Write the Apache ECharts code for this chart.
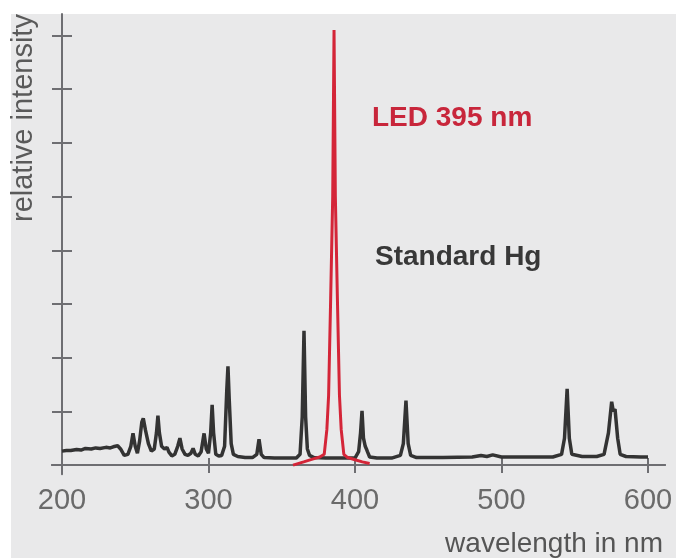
<!DOCTYPE html>
<html>
<head>
<meta charset="utf-8">
<script src="https://cdn.jsdelivr.net/npm/echarts@6/dist/echarts.min.js"></script>
<style>
html,body{margin:0;padding:0;background:#fff;}
#chart{width:676px;height:558px;}
</style>
</head>
<body>
<div id="chart"></div>
<script>
// Standard Hg lamp spectrum (wavelength nm, relative intensity)
const hgNm = [200,203,206,210,213,216,220,223,226,230,233,235,238,240,242.5,245,247,248.5,250,251.5,253,254.5,255.5,257,259,261,263,264.5,265.5,266.5,268,270,271.7,273,275,277,279,280.5,282,284,286,288,289.5,291,293,295,297,298.5,300,301.5,302.5,303.5,305,307,309,311,312.5,313.3,314.2,315.5,317,320,325,330,333,334.5,336,338,345,355,360,362.5,364,365.2,366.3,367.5,369,372,380,395,400,402.5,403.8,404.8,405.8,407,407.8,408.5,410,415,425,431,433,434.8,436.3,438,442,460,480,486,490,494,500,520,535,541,543,544.8,546.3,548,555,565,570,573,575.2,576.3,577.5,579.3,581,585,595,600];
const hgVal = [0.26,0.27,0.27,0.29,0.28,0.31,0.3,0.32,0.31,0.33,0.32,0.34,0.36,0.3,0.18,0.2,0.35,0.59,0.35,0.22,0.45,0.8,0.87,0.65,0.4,0.26,0.3,0.6,0.92,0.6,0.35,0.3,0.33,0.24,0.17,0.2,0.35,0.5,0.3,0.2,0.18,0.22,0.31,0.2,0.17,0.25,0.59,0.3,0.22,0.6,1.12,0.6,0.2,0.17,0.18,0.35,1.4,1.84,1.2,0.4,0.2,0.16,0.14,0.14,0.2,0.48,0.2,0.14,0.13,0.13,0.13,0.2,0.9,2.5,0.9,0.3,0.18,0.14,0.13,0.13,0.13,0.25,0.6,1.01,0.5,0.35,0.3,0.25,0.15,0.13,0.13,0.18,0.4,1.2,0.4,0.18,0.14,0.14,0.15,0.18,0.16,0.19,0.15,0.15,0.15,0.2,0.5,1.42,0.5,0.2,0.16,0.16,0.2,0.6,1.18,1.0,1.04,0.5,0.2,0.16,0.15,0.15];
// LED 395 nm spectrum
const ledNm = [357.7,365,371,376,379.0,380.8,382.0,383.4,384.8,385.7,386.6,388.0,389.4,390.6,392.4,395,400,405,410];
const ledVal = [0.0,0.06,0.11,0.15,0.2,0.66,1.3,3.1,5.0,8.1,5.0,3.1,1.3,0.66,0.2,0.14,0.1,0.06,0.03];
// Axis ticks
const xTicks = [200,300,400,500,600];
const yTicks = [0,1,2,3,4,5,6,7,8];
const seriesNames = ['Standard Hg','LED 395 nm'];

const hgData = hgNm.map((x,i)=>[x,hgVal[i]]);
const ledData = ledNm.map((x,i)=>[x,ledVal[i]]);

const axisGrey = '#6e6e72';
const font = "'Liberation Sans', Arial, sans-serif";
const X_MIN = 193.2, X_MAX = 611.6, Y_MIN = -0.17, Y_MAX = 8.4;

const chart = echarts.init(document.getElementById('chart'), null, {renderer:'canvas'});
chart.setOption({
  animation: false,
  backgroundColor: '#ffffff',
  grid: {left: 52, right: 11, top: 14, bottom: 80, containLabel: false},
  xAxis: [
    {type:'value', min:X_MIN, max:X_MAX, position:'bottom',
     axisLine:{show:true, onZero:true, lineStyle:{color:axisGrey, width:2}},
     axisTick:{show:true, inside:false, length:8, customValues:xTicks, lineStyle:{color:axisGrey, width:2}},
     axisLabel:{show:true, customValues:xTicks, margin:12, fontFamily:font, fontSize:29, color:'#6a6a6a'},
     splitLine:{show:false},
     name:'wavelength in nm', nameLocation:'end', nameGap:-2,
     nameTextStyle:{fontFamily:font, fontSize:28, color:'#555', align:'right', verticalAlign:'top', padding:[65,0,0,0]}},
    {type:'value', min:X_MIN, max:X_MAX, position:'bottom',
     axisLine:{show:true, onZero:true, lineStyle:{color:axisGrey, width:2}},
     axisTick:{show:true, inside:true, length:7, customValues:xTicks, lineStyle:{color:axisGrey, width:2}},
     axisLabel:{show:false}, splitLine:{show:false}}
  ],
  yAxis: [
    {type:'value', min:Y_MIN, max:Y_MAX, position:'left', offset:-10,
     axisLine:{show:true, onZero:false, lineStyle:{color:axisGrey, width:2}},
     axisTick:{show:true, inside:false, length:10, customValues:yTicks, lineStyle:{color:axisGrey, width:2}},
     axisLabel:{show:false}, splitLine:{show:false}},
    {type:'value', min:Y_MIN, max:Y_MAX, position:'left', offset:-10,
     axisLine:{show:false, onZero:false},
     axisTick:{show:true, inside:true, length:10, customValues:yTicks, lineStyle:{color:axisGrey, width:2}},
     axisLabel:{show:false}, splitLine:{show:false}}
  ],
  graphic: [
    {type:'rect', z:-10, silent:true, shape:{x:11, y:14, width:665, height:544}, style:{fill:'#e9e9ea'}},
    {type:'text', z:10, x:9, y:222, rotation:Math.PI/2,
     style:{text:'relative intensity', font:"29px 'Liberation Sans', Arial, sans-serif", fill:'#5a5a5a', textAlign:'left', textVerticalAlign:'top'}},
    {type:'text', z:10, x:372, y:104,
     style:{text:'LED 395 nm', font:"bold 28px 'Liberation Sans', Arial, sans-serif", fill:'#c8263b', textAlign:'left', textVerticalAlign:'top'}},
    {type:'text', z:10, x:375, y:243,
     style:{text:'Standard Hg', font:"bold 28px 'Liberation Sans', Arial, sans-serif", fill:'#383838', textAlign:'left', textVerticalAlign:'top'}}
  ],
  series: [
    {name:seriesNames[0], type:'line', xAxisIndex:0, yAxisIndex:0, data:hgData, showSymbol:false, symbol:'none',
     lineStyle:{color:'#333333', width:3.5}, z:3},
    {name:seriesNames[1], type:'line', xAxisIndex:0, yAxisIndex:0, data:ledData, showSymbol:false, symbol:'none',
     lineStyle:{color:'#d42538', width:3}, z:4}
  ]
});
</script>
</body>
</html>
